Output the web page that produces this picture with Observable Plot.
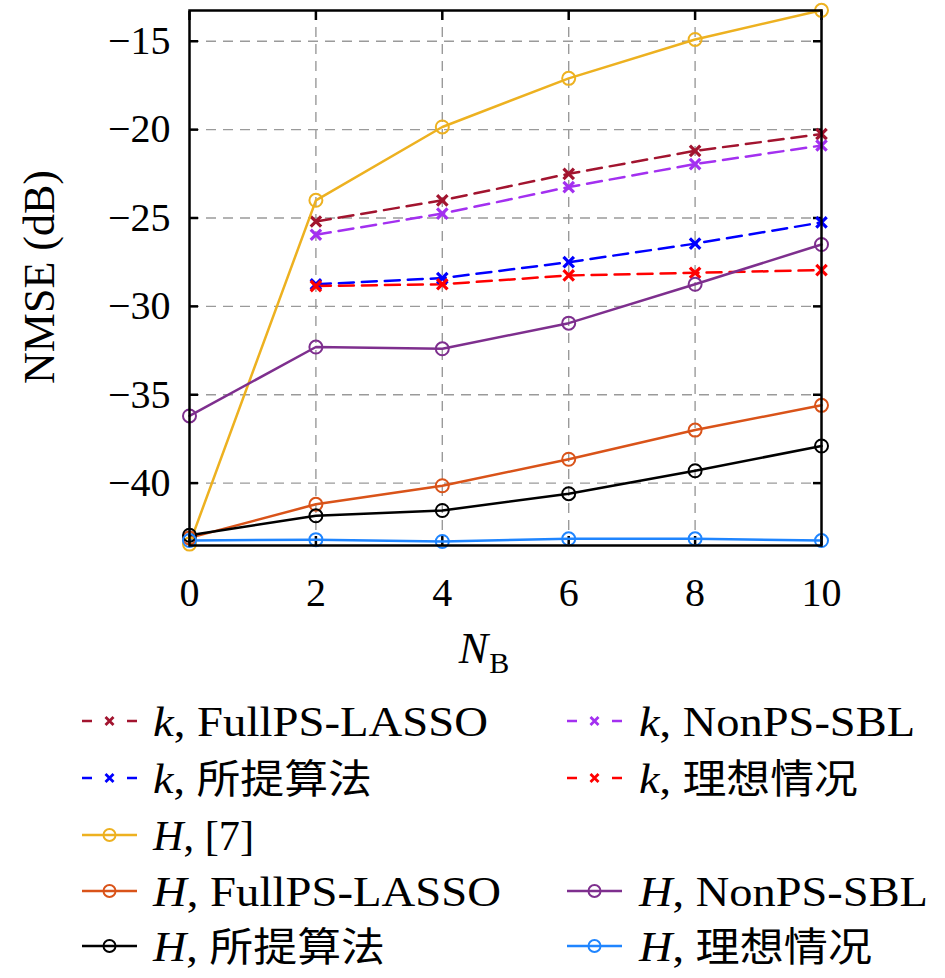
<!DOCTYPE html>
<html>
<head>
<meta charset="utf-8">
<script src="https://cdn.jsdelivr.net/npm/d3@7"></script>
<script src="https://cdn.jsdelivr.net/npm/@observablehq/plot@0.6"></script>
<style>
  body { margin: 0; background: #fff; }
  #chart svg { display: block; }
</style>
</head>
<body>
<div id="chart"></div>
<script>
// ---- data ----
const NB_H = [0, 2, 4, 6, 8, 10];
const NB_k = [2, 4, 6, 8, 10];
const xTicks = [0, 2, 4, 6, 8, 10];
const yTicks = [-40, -35, -30, -25, -20, -15];

const k_FullPS = [-25.2, -24.0, -22.5, -21.2, -20.25];
const k_NonPS  = [-25.95, -24.75, -23.25, -21.95, -20.9];
const k_Prop   = [-28.75, -28.4, -27.5, -26.45, -25.25];
const k_Ideal  = [-28.85, -28.75, -28.25, -28.1, -27.95];

const H_ref7   = [-43.45, -24.0, -19.85, -17.1, -14.9, -13.25];
const H_FullPS = [-43.1, -41.2, -40.15, -38.65, -37.0, -35.6];
const H_NonPS  = [-36.2, -32.3, -32.4, -30.95, -28.75, -26.5];
const H_Prop   = [-42.95, -41.85, -41.55, -40.6, -39.3, -37.9];
const H_Ideal  = [-43.25, -43.2, -43.3, -43.15, -43.15, -43.25];

const seriesVar = ["k", "k", "k", "k", "H", "H", "H", "H", "H"];
const seriesMethod = ["FullPS-LASSO", "NonPS-SBL", "所提算法", "理想情况", "[7]", "FullPS-LASSO", "NonPS-SBL", "所提算法", "理想情况"];
const seriesNames = seriesVar.map((v, i) => `${v}, ${seriesMethod[i]}`);
const seriesColors = ["#A2142F", "#A330F0", "#0000FF", "#FF0000", "#EDB120", "#D95319", "#7E2F8E", "#000000", "#1F85FF"];

const kValues = [k_FullPS, k_NonPS, k_Prop, k_Ideal];
const HValues = [H_ref7, H_FullPS, H_NonPS, H_Prop, H_Ideal];

const kData = kValues.flatMap((vals, s) => NB_k.map((x, i) => ({x, y: vals[i], name: seriesNames[s]})));
const HData = HValues.flatMap((vals, s) => NB_H.map((x, i) => ({x, y: vals[i], name: seriesNames[4 + s]})));

// ---- chart ----
const gridStyle = {stroke: "#9a9a9a", strokeOpacity: 1, strokeWidth: 1.4, strokeDasharray: "10,7"};

const chart = Plot.plot({
  width: 945,
  height: 690,
  marginLeft: 189,
  marginRight: 124,
  marginTop: 10,
  marginBottom: 145,
  style: {fontFamily: "'Liberation Serif', serif", fontSize: "40px", color: "black", background: "white"},
  x: {domain: [0, 10]},
  y: {domain: [-43.53, -13.26]},
  color: {domain: seriesNames, range: seriesColors},
  marks: [
    Plot.gridX(xTicks.slice(1, -1), gridStyle),
    Plot.gridY(yTicks, gridStyle),
    Plot.axisY(yTicks, {anchor: "left", tickSize: 0, tickPadding: 19, fontSize: 40, label: null}),
    Plot.axisY(yTicks, {anchor: "left", tickSize: -9, fill: "none", strokeWidth: 2.5, label: null}),
    Plot.axisY(yTicks, {anchor: "right", tickSize: -9, fill: "none", strokeWidth: 2.5, label: null}),
    Plot.axisX(xTicks, {anchor: "bottom", tickSize: 0, tickPadding: 32, fontSize: 40, label: null}),
    Plot.axisX(xTicks, {anchor: "bottom", tickSize: -9, fill: "none", strokeWidth: 2.5, label: null}),
    Plot.axisX(xTicks, {anchor: "top", tickSize: -9, fill: "none", strokeWidth: 2.5, label: null}),
    Plot.line(kData, {x: "x", y: "y", z: "name", stroke: "name", strokeWidth: 2.5, strokeDasharray: "15,8"}),
    Plot.dot(kData, {x: "x", y: "y", stroke: "name", symbol: "times", r: 4.8, strokeWidth: 3.2}),
    Plot.line(HData, {x: "x", y: "y", z: "name", stroke: "name", strokeWidth: 2.5}),
    Plot.dot(HData, {x: "x", y: "y", stroke: "name", fill: "none", r: 6.5, strokeWidth: 2}),
    Plot.frame({stroke: "black", strokeWidth: 2.5})
  ]
});

// axis titles
const svg = d3.select(chart);
svg.append("text")
  .attr("transform", "translate(54,277) rotate(-90)")
  .attr("text-anchor", "middle")
  .style("font-family", "'Liberation Serif', serif")
  .style("font-size", "44px")
  .attr("fill", "black")
  .text("NMSE (dB)");
const xl = svg.append("text")
  .attr("x", 484).attr("y", 663)
  .style("font-family", "'Liberation Serif', serif")
  .attr("fill", "black");
xl.append("tspan").style("font-style", "italic").style("font-size", "44px").text("N");
xl.append("tspan").style("font-size", "30px").attr("dy", 10).attr("dx", 1).text("B");

document.getElementById("chart").appendChild(chart);

// ---- legend ----
const slots = [[0, 0], [1, 0], [0, 1], [1, 1], [0, 2], [0, 3], [1, 3], [0, 4], [1, 4]];
const textWidths = [335, 276, 219, 219, 101, 348, 289, 232, 233];
const colX = [82, 567], textX = [153, 639], rowY = [31, 88, 145, 201, 256];

const leg = d3.create("svg").attr("width", 945).attr("height", 288).style("display", "block");
seriesNames.forEach((name, i) => {
  const [c, r] = slots[i];
  const x0 = colX[c], y = rowY[r], color = seriesColors[i];
  const g = leg.append("g");
  if (seriesVar[i] === "k") {
    g.append("line").attr("x1", x0).attr("x2", x0 + 55).attr("y1", y).attr("y2", y)
      .attr("stroke", color).attr("stroke-width", 2.5).attr("stroke-dasharray", "10,35");
    g.append("path").attr("transform", `translate(${x0 + 27.5},${y})`)
      .attr("d", "M-4,-4L4,4M-4,4L4,-4").attr("stroke", color).attr("stroke-width", 2.8).attr("fill", "none");
  } else {
    g.append("line").attr("x1", x0).attr("x2", x0 + 55).attr("y1", y).attr("y2", y)
      .attr("stroke", color).attr("stroke-width", 2.5);
    g.append("circle").attr("cx", x0 + 27.5).attr("cy", y).attr("r", 6)
      .attr("stroke", color).attr("stroke-width", 2).attr("fill", "none");
  }
  const t = g.append("text").attr("x", textX[c]).attr("y", y + 15)
    .style("font-family", "'Liberation Serif', serif").style("font-size", "42px").attr("fill", "black")
    .attr("textLength", textWidths[i]).attr("lengthAdjust", "spacingAndGlyphs");
  t.append("tspan").style("font-style", "italic").text(seriesVar[i]);
  t.append("tspan").text(", ");
  const m = seriesMethod[i];
  if (/[\u4e00-\u9fff]/.test(m)) {
    t.append("tspan").style("font-family", "'Noto Sans CJK SC', sans-serif").style("font-size", "40px").text(m);
  } else {
    t.append("tspan").text(m);
  }
});
document.getElementById("chart").appendChild(leg.node());
</script>
</body>
</html>
